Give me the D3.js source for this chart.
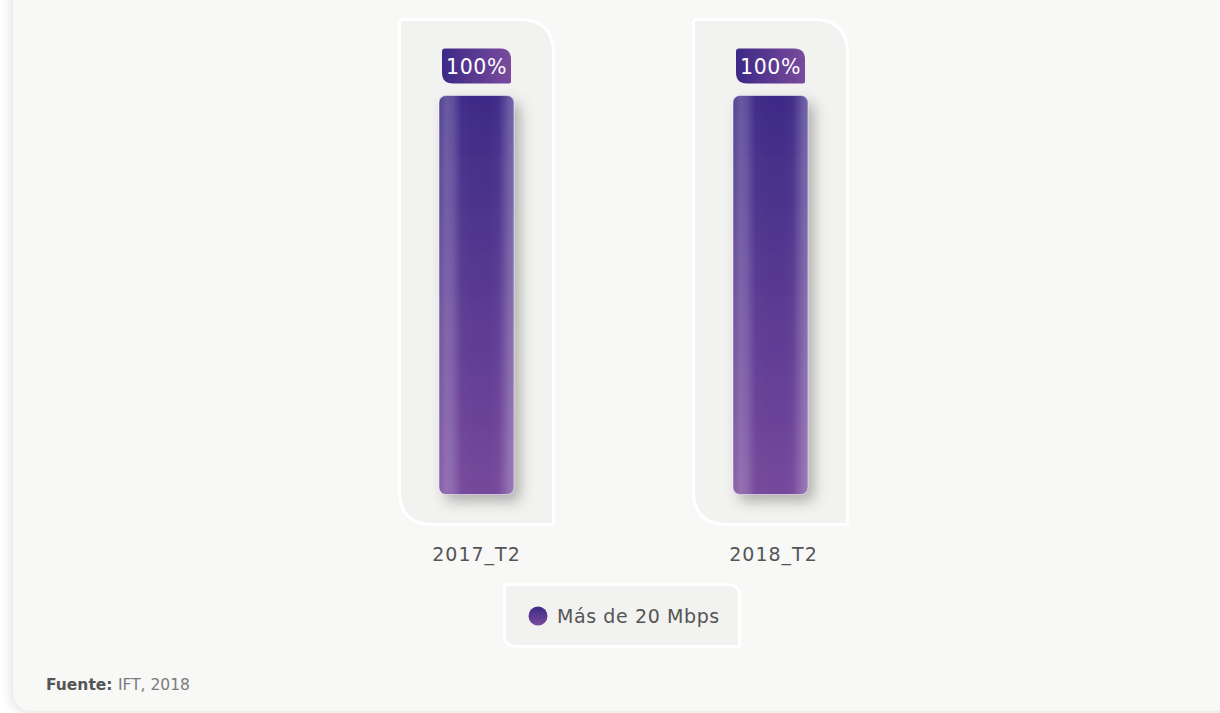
<!DOCTYPE html>
<html>
<head>
<meta charset="utf-8">
<script src="https://cdn.jsdelivr.net/npm/d3@7"></script>
<style>
  body { margin: 0; background: #ffffff; }
  svg { display: block; font-family: "DejaVu Sans", sans-serif; }
</style>
</head>
<body>
<div class="chart"></div>
<script>
// Chart data
const categories = ["2017_T2", "2018_T2"];
const values = [100, 100];
const seriesName = "Más de 20 Mbps";
const sourceLabel = "Fuente:";
const sourceText = "IFT, 2018";

const W = 1220, H = 713;

const svg = d3.select(".chart")
  .append("svg")
  .attr("width", W)
  .attr("height", H);

const defs = svg.append("defs");

// card shadow
const cardShadow = defs.append("filter").attr("id", "cardShadow")
  .attr("x", "-5%").attr("y", "-5%").attr("width", "110%").attr("height", "110%");
cardShadow.append("feDropShadow")
  .attr("dx", -2).attr("dy", 2).attr("stdDeviation", 6)
  .attr("flood-color", "#000").attr("flood-opacity", 0.12);

// bar shadow
const barShadow = defs.append("filter").attr("id", "barShadow")
  .attr("x", "-30%").attr("y", "-10%").attr("width", "180%").attr("height", "130%");
barShadow.append("feDropShadow")
  .attr("dx", 6).attr("dy", 7).attr("stdDeviation", 7)
  .attr("flood-color", "#000").attr("flood-opacity", 0.28);

// vertical gradient for bars
const vGrad = defs.append("linearGradient").attr("id", "barV")
  .attr("x1", 0).attr("y1", 0).attr("x2", 0).attr("y2", 1);
vGrad.append("stop").attr("offset", "0%").attr("stop-color", "#3d2b87");
vGrad.append("stop").attr("offset", "100%").attr("stop-color", "#76489c");

// horizontal highlight stripes
const hGrad = defs.append("linearGradient").attr("id", "barH")
  .attr("x1", 0).attr("y1", 0).attr("x2", 1).attr("y2", 0);
[
  [0, "#ffffff", 0.12],
  [0.1, "#ffffff", 0.22],
  [0.18, "#ffffff", 0.18],
  [0.3, "#ffffff", 0.02],
  [0.6, "#000000", 0.0],
  [0.8, "#ffffff", 0.03],
  [0.93, "#ffffff", 0.22],
  [1, "#ffffff", 0.28]
].forEach(function (s) {
  hGrad.append("stop").attr("offset", s[0]).attr("stop-color", s[1]).attr("stop-opacity", s[2]);
});

// label gradient
const lGrad = defs.append("linearGradient").attr("id", "labelG")
  .attr("x1", 0).attr("y1", 0).attr("x2", 1).attr("y2", 0);
lGrad.append("stop").attr("offset", "0%").attr("stop-color", "#3c2986");
lGrad.append("stop").attr("offset", "100%").attr("stop-color", "#7a4b9d");

// legend dot gradient
const dGrad = defs.append("linearGradient").attr("id", "dotG")
  .attr("x1", 0).attr("y1", 0).attr("x2", 0).attr("y2", 1);
dGrad.append("stop").attr("offset", "0%").attr("stop-color", "#3c2986");
dGrad.append("stop").attr("offset", "100%").attr("stop-color", "#7a4b9d");

// rounded rect with individual corner radii (tl, tr, br, bl)
function roundedPath(x, y, w, h, tl, tr, br, bl) {
  return "M" + (x + tl) + "," + y +
    "H" + (x + w - tr) +
    "Q" + (x + w) + "," + y + " " + (x + w) + "," + (y + tr) +
    "V" + (y + h - br) +
    "Q" + (x + w) + "," + (y + h) + " " + (x + w - br) + "," + (y + h) +
    "H" + (x + bl) +
    "Q" + x + "," + (y + h) + " " + x + "," + (y + h - bl) +
    "V" + (y + tl) +
    "Q" + x + "," + y + " " + (x + tl) + "," + y + "Z";
}

// Card background
svg.append("path")
  .attr("d", roundedPath(13, -30, W, 741, 0, 0, 0, 22))
  .attr("fill", "#f8f8f7")
  .attr("filter", "url(#cardShadow)");

// Scales
const x = d3.scalePoint()
  .domain(categories)
  .range([476.5, 770.5]);

const y = d3.scaleLinear()
  .domain([0, 100])
  .range([494.5, 95.5]);

const barWidth = 75;
const panelHalf = 77;

const groups = svg.selectAll(".cat")
  .data(categories.map(function (c, i) { return { cat: c, value: values[i] }; }))
  .enter()
  .append("g")
  .attr("class", "cat");

// Panels behind bars
groups.append("path")
  .attr("d", function (d) {
    const cx = x(d.cat);
    return roundedPath(cx - panelHalf, 19.5, panelHalf * 2, 505, 4, 34, 2, 34);
  })
  .attr("fill", "#f2f2f1")
  .attr("stroke", "#ffffff")
  .attr("stroke-width", 3);

// Bars
groups.append("rect")
  .attr("x", function (d) { return x(d.cat) - barWidth / 2; })
  .attr("y", function (d) { return y(d.value); })
  .attr("width", barWidth)
  .attr("height", function (d) { return y(0) - y(d.value); })
  .attr("rx", 7)
  .attr("fill", "url(#barV)")
  .attr("filter", "url(#barShadow)");

groups.append("rect")
  .attr("x", function (d) { return x(d.cat) - barWidth / 2; })
  .attr("y", function (d) { return y(d.value); })
  .attr("width", barWidth)
  .attr("height", function (d) { return y(0) - y(d.value); })
  .attr("rx", 7)
  .attr("fill", "url(#barH)")
  .attr("stroke", "#ffffff")
  .attr("stroke-opacity", 0.5)
  .attr("stroke-width", 1);

// Value labels
groups.append("path")
  .attr("d", function (d) {
    const cx = x(d.cat);
    return roundedPath(cx - 34.5, y(d.value) - 47, 69, 35, 3, 11, 2, 11);
  })
  .attr("fill", "url(#labelG)");

groups.append("text")
  .attr("x", function (d) { return x(d.cat); })
  .attr("y", function (d) { return y(d.value) - 22; })
  .attr("text-anchor", "middle")
  .attr("fill", "#ffffff")
  .style("font-size", "20.5px")
  .style("letter-spacing", "0.6px")
  .text(function (d) { return d.value + "%"; });

// Category labels
groups.append("text")
  .attr("x", function (d, i) { return x(d.cat) + i * 3; })
  .attr("y", 561)
  .attr("text-anchor", "middle")
  .attr("fill", "#555555")
  .style("font-size", "19px")
  .style("letter-spacing", "1px")
  .text(function (d) { return d.cat; });

// Legend
const legend = svg.append("g").attr("class", "legend");
legend.append("path")
  .attr("d", roundedPath(504.5, 584.5, 235, 62, 2, 12, 2, 12))
  .attr("fill", "#f2f2f1")
  .attr("stroke", "#ffffff")
  .attr("stroke-width", 3);
legend.append("circle")
  .attr("cx", 538)
  .attr("cy", 616)
  .attr("r", 9.5)
  .attr("fill", "url(#dotG)");
legend.append("text")
  .attr("x", 557)
  .attr("y", 623)
  .attr("fill", "#555555")
  .style("font-size", "19px")
  .style("letter-spacing", "0.6px")
  .text(seriesName);

// Source note
const src = svg.append("text")
  .attr("x", 46)
  .attr("y", 690)
  .style("font-size", "15.5px");
src.append("tspan")
  .attr("fill", "#555555")
  .style("font-weight", "bold")
  .text(sourceLabel + " ");
src.append("tspan")
  .attr("fill", "#7a7a7a")
  .text(sourceText);
</script>
</body>
</html>
